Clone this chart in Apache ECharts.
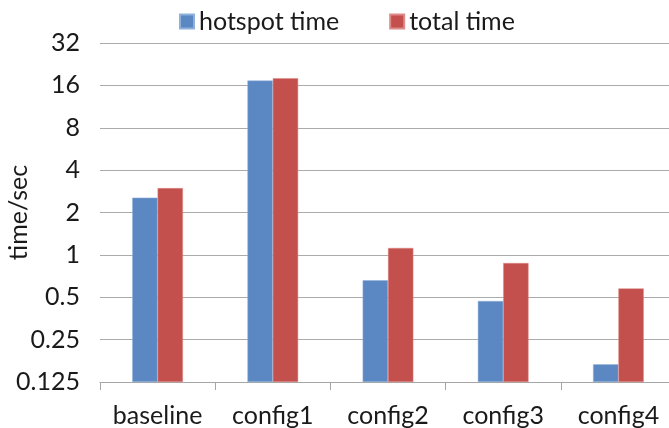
<!DOCTYPE html>
<html>
<head>
<meta charset="utf-8">
<script src="https://cdn.jsdelivr.net/npm/echarts@6/dist/echarts.min.js"></script>
<style>
  html, body { margin: 0; padding: 0; background: #fff; }
  #chart { width: 669px; height: 428px; }
</style>
</head>
<body>
<div id="chart"></div>
<script>
// Run configurations along the x axis
const categories = ['baseline', 'config1', 'config2', 'config3', 'config4'];
// Measured times in seconds
const hotspotTime = [2.55, 17.3, 0.66, 0.47, 0.167];
const totalTime = [2.98, 18.0, 1.12, 0.875, 0.578];
// Log2 axis tick labels
const yTicks = [0.125, 0.25, 0.5, 1, 2, 4, 8, 16, 32];

const FONT = 'Lato, "Open Sans", sans-serif';
const FS = 25;
const chart = echarts.init(document.getElementById('chart'));

chart.setOption({
  animation: false,
  textStyle: { fontFamily: FONT },
  legend: {
    top: 4,
    left: 174,
    itemWidth: 14,
    itemHeight: 14,
    itemGap: 50,
    icon: 'rect',
    textStyle: { fontSize: FS, color: '#1a1a1a', fontFamily: FONT },
    data: ['hotspot time', 'total time']
  },
  grid: {
    left: 100, top: 43, width: 576, bottom: 46,
    containLabel: false,
    outerBoundsMode: 'none'
  },
  xAxis: {
    type: 'category',
    data: categories,
    axisLine: { show: true, lineStyle: { color: '#a6a6a6', width: 1 } },
    axisTick: { show: true, length: 8, lineStyle: { color: '#a6a6a6' } },
    axisLabel: { interval: 0, fontSize: FS, color: '#1a1a1a', margin: 21, fontFamily: FONT }
  },
  yAxis: {
    type: 'log',
    logBase: 2,
    min: yTicks[0],
    max: yTicks[yTicks.length - 1],
    startValue: yTicks[0],
    interval: 1,
    name: 'time/sec',
    nameLocation: 'middle',
    nameGap: 69,
    nameRotate: 90,
    nameMoveOverlap: false,
    nameTextStyle: { fontSize: FS, color: '#1a1a1a', fontFamily: FONT },
    axisLine: { show: false },
    axisTick: { show: false },
    axisLabel: {
      fontSize: FS, color: '#1a1a1a', margin: 20, fontFamily: FONT,
      formatter: v => {
        const t = yTicks.find(x => Math.abs(x - v) / x < 1e-6);
        return t !== undefined ? String(t) : '';
      }
    },
    splitLine: { show: true, lineStyle: { color: '#ababab', width: 1 } }
  },
  series: [
    {
      name: 'hotspot time',
      type: 'bar',
      data: hotspotTime,
      barGap: '0%',
      barCategoryGap: '56%',
      itemStyle: { color: '#5b88c2', borderColor: '#8fb0da', borderWidth: 0.5 }
    },
    {
      name: 'total time',
      type: 'bar',
      data: totalTime,
      barGap: '0%',
      barCategoryGap: '56%',
      itemStyle: { color: '#c3504d', borderColor: '#de8a88', borderWidth: 0.5 }
    }
  ]
});
</script>
</body>
</html>
